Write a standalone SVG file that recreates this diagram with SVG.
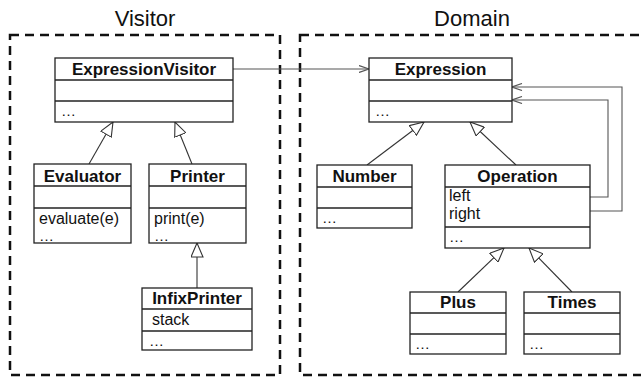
<svg xmlns="http://www.w3.org/2000/svg" width="641" height="378" viewBox="0 0 641 378">
<style>
.frame{fill:none;stroke:#111;stroke-width:2.5;stroke-dasharray:9 6}
.title{font-family:"Liberation Sans",Arial,sans-serif;font-size:22px;fill:#111;text-anchor:middle}
.box{fill:#fff;stroke:#222;stroke-width:1.3}
.div{stroke:#222;stroke-width:1.3}
.cn{font-family:"Liberation Sans",Arial,sans-serif;font-size:17px;font-weight:bold;fill:#111;text-anchor:middle}
.ft{font-family:"Liberation Sans",Arial,sans-serif;font-size:16px;fill:#111}
.dots{font-family:"Liberation Sans",Arial,sans-serif;font-size:15px;fill:#111}
.inh{fill:none;stroke:#333;stroke-width:1.1;marker-end:url(#tri)}
.assoc{fill:none;stroke:#555;stroke-width:1.1;marker-end:url(#open)}
</style>
<defs>
<marker id="tri" viewBox="0 0 15 13" refX="14.5" refY="6.5" markerWidth="15" markerHeight="13" markerUnits="userSpaceOnUse" orient="auto">
<path d="M0.5,0.5 L14.5,6.5 L0.5,12.5 z" fill="#fff" stroke="#333" stroke-width="1.1"/>
</marker>
<marker id="open" viewBox="0 0 11 8" refX="10.5" refY="4" markerWidth="11" markerHeight="8" markerUnits="userSpaceOnUse" orient="auto">
<path d="M0.5,0.5 L10.5,4 L0.5,7.5" fill="none" stroke="#555" stroke-width="1.2"/>
</marker>
</defs>
<rect width="641" height="378" fill="#fff"/>
<g id="frames">
<rect class="frame" x="10" y="35" width="270" height="340"/>
<rect class="frame" x="300" y="35" width="346" height="340"/>
<text class="title" x="145" y="26">Visitor</text>
<text class="title" x="472" y="26">Domain</text>
</g>
<g id="connectors">
<path class="assoc" d="M233,69 H369"/>
<path class="assoc" d="M590,197 H608 V100 H512"/>
<path class="assoc" d="M590,211 H622 V87 H512"/>
<path class="inh" d="M89,164 L113,122"/>
<path class="inh" d="M192,164 L175,122"/>
<path class="inh" d="M197,288 L197,243"/>
<path class="inh" d="M367,165 L424,122"/>
<path class="inh" d="M516,165 L470,122"/>
<path class="inh" d="M458,292 L504,248"/>
<path class="inh" d="M572,292 L529,248"/>
</g>
<g id="ExpressionVisitor">
<rect class="box" x="55" y="58" width="178" height="64"/>
<line class="div" x1="55" y1="80" x2="233" y2="80"/>
<line class="div" x1="55" y1="101" x2="233" y2="101"/>
<text class="cn" x="144" y="75">ExpressionVisitor</text>
<text class="dots" x="61" y="116">…</text>
</g>
<g id="Expression">
<rect class="box" x="369" y="58" width="143" height="64"/>
<line class="div" x1="369" y1="80" x2="512" y2="80"/>
<line class="div" x1="369" y1="101" x2="512" y2="101"/>
<text class="cn" x="440.5" y="75">Expression</text>
<text class="dots" x="375" y="116">…</text>
</g>
<g id="Evaluator">
<rect class="box" x="34" y="164" width="97" height="79"/>
<line class="div" x1="34" y1="186" x2="131" y2="186"/>
<line class="div" x1="34" y1="208" x2="131" y2="208"/>
<text class="cn" x="82.5" y="182">Evaluator</text>
<text class="ft" x="39" y="224">evaluate(e)</text>
<text class="dots" x="39" y="241">…</text>
</g>
<g id="Printer">
<rect class="box" x="149" y="164" width="97" height="79"/>
<line class="div" x1="149" y1="186" x2="246" y2="186"/>
<line class="div" x1="149" y1="208" x2="246" y2="208"/>
<text class="cn" x="197.5" y="182">Printer</text>
<text class="ft" x="154" y="224">print(e)</text>
<text class="dots" x="154" y="241">…</text>
</g>
<g id="InfixPrinter">
<rect class="box" x="142" y="288" width="110" height="62"/>
<line class="div" x1="142" y1="309" x2="252" y2="309"/>
<line class="div" x1="142" y1="331" x2="252" y2="331"/>
<text class="cn" x="197" y="304">InfixPrinter</text>
<text class="ft" x="152" y="325">stack</text>
<text class="dots" x="149" y="346">…</text>
</g>
<g id="Number">
<rect class="box" x="317" y="165" width="95" height="63"/>
<line class="div" x1="317" y1="187" x2="412" y2="187"/>
<line class="div" x1="317" y1="208" x2="412" y2="208"/>
<text class="cn" x="364.5" y="182">Number</text>
<text class="dots" x="322" y="223">…</text>
</g>
<g id="Operation">
<rect class="box" x="445" y="165" width="145" height="83"/>
<line class="div" x1="445" y1="187" x2="590" y2="187"/>
<line class="div" x1="445" y1="227" x2="590" y2="227"/>
<text class="cn" x="517.5" y="182">Operation</text>
<text class="ft" x="449" y="201">left</text>
<text class="ft" x="449" y="219">right</text>
<text class="dots" x="449" y="242">…</text>
</g>
<g id="Plus">
<rect class="box" x="410" y="292" width="96" height="62"/>
<line class="div" x1="410" y1="313" x2="506" y2="313"/>
<line class="div" x1="410" y1="334" x2="506" y2="334"/>
<text class="cn" x="458" y="308">Plus</text>
<text class="dots" x="415" y="349">…</text>
</g>
<g id="Times">
<rect class="box" x="524" y="292" width="96" height="62"/>
<line class="div" x1="524" y1="313" x2="620" y2="313"/>
<line class="div" x1="524" y1="334" x2="620" y2="334"/>
<text class="cn" x="572" y="308">Times</text>
<text class="dots" x="529" y="349">…</text>
</g>
</svg>
